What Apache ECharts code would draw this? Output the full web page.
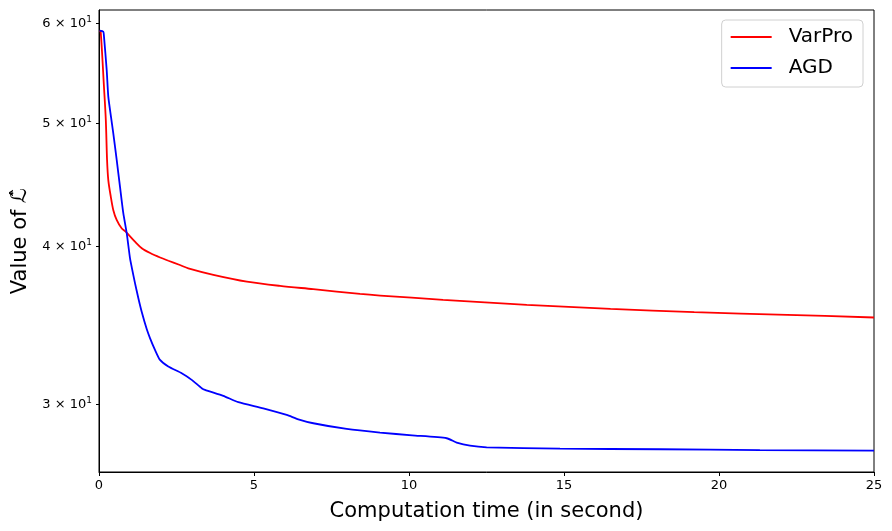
<!DOCTYPE html>
<html>
<head>
<meta charset="utf-8">
<script src="https://cdn.jsdelivr.net/npm/echarts@6/dist/echarts.min.js"></script>
<style>html,body{margin:0;padding:0;background:#fff;}#c{width:892px;height:531px;}</style>
</head>
<body>
<div id="c"></div>
<script>
const seriesNames = ['VarPro', 'AGD'];
const varproT = [0.02, 0.055, 0.16, 0.22, 0.26, 0.30, 0.38, 0.46, 0.57, 0.73, 0.86, 1.16, 1.38, 1.65, 1.97, 2.24, 2.61, 2.88, 3.69, 4.77, 5.84, 6.91, 8.42, 9.07, 11.1, 13.8, 16.5, 19.2, 22.2, 25.0];
const varproV = [59.2, 59.09, 53.46, 50.31, 46.79, 45.11, 43.77, 42.72, 41.95, 41.32, 41.07, 40.33, 39.85, 39.5, 39.18, 38.95, 38.65, 38.42, 37.97, 37.50, 37.21, 36.99, 36.67, 36.56, 36.28, 35.95, 35.69, 35.47, 35.30, 35.13];
const agdT = [0.02, 0.139, 0.161, 0.248, 0.30, 0.387, 0.461, 0.571, 0.677, 0.784, 0.894, 1.0, 1.055, 1.161, 1.268, 1.377, 1.539, 1.645, 1.806, 1.968, 2.235, 2.668, 2.99, 3.313, 3.419, 4.01, 4.494, 5.3, 6.055, 6.429, 6.913, 7.99, 9.065, 10.1, 11.216, 11.539, 11.968, 12.506, 14.871, 18.1, 21.32, 25.0];
const agdV = [59.2, 59.09, 58.56, 55.12, 52.50, 50.61, 49.11, 46.79, 44.57, 42.47, 40.95, 39.13, 38.5, 37.4, 36.4, 35.5, 34.4, 33.84, 33.12, 32.52, 32.13, 31.74, 31.36, 30.89, 30.79, 30.46, 30.11, 29.78, 29.42, 29.19, 28.98, 28.68, 28.49, 28.35, 28.20, 27.98, 27.82, 27.74, 27.67, 27.64, 27.60, 27.57];
const xTicks = [0, 5, 10, 15, 20, 25];
const yTicks = [30, 40, 50, 60];
const yTickMantissa = {30: '3', 40: '4', 50: '5', 60: '6'};

const FONT = 'DejaVu Sans';
const chart = echarts.init(document.getElementById('c'), null, {renderer: 'canvas'});
function pairs(t, v) { return t.map((x, i) => [x, v[i]]); }
chart.setOption({
  animation: false,
  backgroundColor: '#fff',
  textStyle: {fontFamily: FONT},
  grid: {left: 99, right: 18, top: 10, bottom: 59, show: true, borderColor: '#000', borderWidth: 1, containLabel: false},
  legend: {
    orient: 'vertical', right: 29, top: 20,
    data: seriesNames.map(n => ({name: n, icon: 'rect'})),
    itemWidth: 41, itemHeight: 2, itemGap: 7,
    padding: [5, 10, 7, 9],
    borderColor: '#d0d0d0', borderWidth: 1, borderRadius: 4,
    textStyle: {fontFamily: FONT, fontSize: 20, color: '#000', lineHeight: 24, padding: [0, 0, 0, 12]}
  },
  xAxis: {
    type: 'value', min: 0, max: 25, interval: 5,
    name: 'Computation time (in second)', nameLocation: 'middle', nameGap: 29,
    nameTextStyle: {fontFamily: FONT, fontSize: 21, color: '#000'},
    axisLine: {show: true, lineStyle: {color: '#000', width: 1}},
    axisTick: {show: true, length: 4, lineStyle: {color: '#000'}, customValues: xTicks},
    axisLabel: {fontFamily: FONT, fontSize: 13, color: '#000', margin: 7, customValues: xTicks},
    splitLine: {show: false}
  },
  yAxis: {
    type: 'log', logBase: 10, min: 26.52, max: 61.47,
    name: 'Value of \u2112\u0302', nameLocation: 'middle', nameGap: 64, nameRotate: 90,
    nameTextStyle: {fontFamily: FONT, fontSize: 21, color: '#000'},
    axisLine: {show: true, onZero: false, lineStyle: {color: '#000', width: 1}},
    axisTick: {show: true, length: 3, lineStyle: {color: '#000'}, customValues: yTicks},
    axisLabel: {
      customValues: yTicks, margin: 7, color: '#000',
      formatter: function (v) { const k = Math.round(v); return '{m|' + (yTickMantissa[k] || '') + ' \u00d7 10}{s|1}'; },
      rich: {
        m: {fontFamily: FONT, fontSize: 13, color: '#000'},
        s: {fontFamily: FONT, fontSize: 9, color: '#000', verticalAlign: 'top', padding: [0, 0, 7, 0]}
      }
    },
    splitLine: {show: false}
  },
  series: [
    {name: seriesNames[0], type: 'line', data: pairs(varproT, varproV), showSymbol: false, symbol: 'none', smooth: 0.3,
     lineStyle: {color: '#ff0000', width: 1.8}, itemStyle: {color: '#ff0000'}},
    {name: seriesNames[1], type: 'line', data: pairs(agdT, agdV), showSymbol: false, symbol: 'none', smooth: 0.2,
     lineStyle: {color: '#0000ff', width: 1.8}, itemStyle: {color: '#0000ff'}}
  ]
});
</script>
</body>
</html>
